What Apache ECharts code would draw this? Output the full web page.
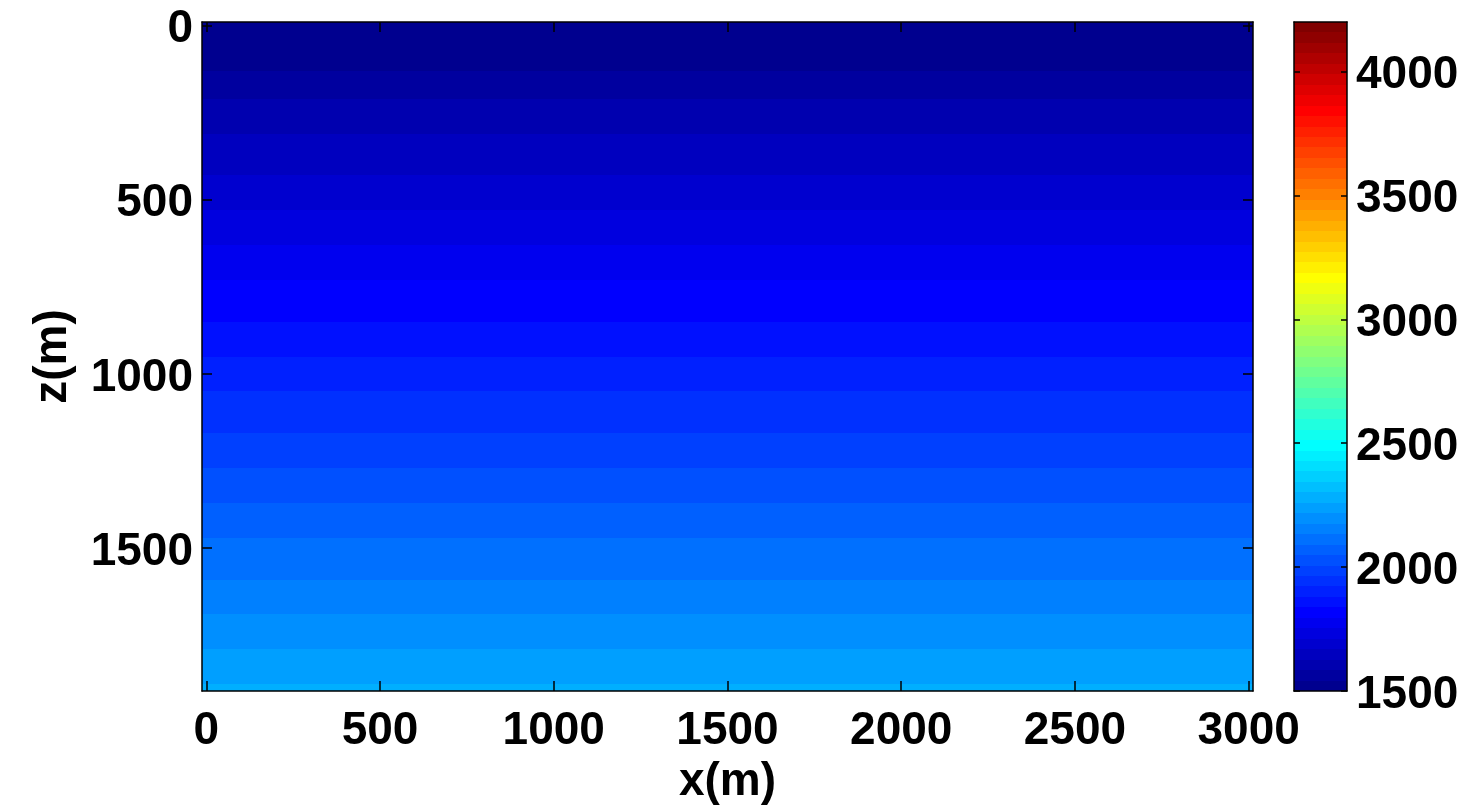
<!DOCTYPE html>
<html>
<head>
<meta charset="utf-8">
<script src="https://cdn.jsdelivr.net/npm/echarts@6/dist/echarts.min.js"></script>
<style>
  html, body { margin: 0; padding: 0; background: #ffffff; }
  #chart { width: 1466px; height: 810px; }
</style>
</head>
<body>
<div id="chart"></div>
<script>
// Layered velocity model (horizontal layers, depth positive downward)
const xRange = [0, 3000];   // lateral extent of model nodes (m)
const dx = 25;               // lateral node spacing (m)
const zRange = [0, 1900];   // depth extent of model nodes (m)
const dz = 20;               // depth node spacing (m)

// depth of the top of each layer (m) and its velocity (m/s)
const layerTops = [0, 130, 210, 310, 430, 530, 630, 730, 850, 950,
                   1050, 1170, 1270, 1370, 1470, 1590, 1690, 1790, 1890];
const layerVelocity = [1520, 1565, 1605, 1650, 1690, 1730, 1775, 1815, 1860, 1900,
                       1940, 1985, 2025, 2070, 2110, 2150, 2195, 2235, 2280];

// axis ticks
const xTicks = [0, 500, 1000, 1500, 2000, 2500, 3000];
const zTicks = [0, 500, 1000, 1500];
const colorTicks = [1500, 2000, 2500, 3000, 3500, 4000];

// colour scale
const colorLimits = [1500, 4200];
const nColors = 64;

// MATLAB-style jet colormap with m entries
function jet(m) {
  const n = Math.ceil(m / 4);
  const u = [];
  for (let i = 1; i <= n; i++) u.push(i / n);
  for (let i = 1; i <= n - 1; i++) u.push(1);
  for (let i = n; i >= 1; i--) u.push(i / n);
  const off = Math.ceil(n / 2) - (m % 4 === 1 ? 1 : 0);
  const J = Array.from({ length: m }, () => [0, 0, 0]);
  const g = u.map((_, k) => off + k + 1);
  const r = g.map(v => v + n).filter(v => v <= m);
  const b = g.map(v => v - n).filter(v => v >= 1);
  const gg = g.filter(v => v <= m);
  r.forEach((idx, k) => { J[idx - 1][0] = u[k]; });
  gg.forEach((idx, k) => { J[idx - 1][1] = u[k]; });
  b.forEach((idx, k) => { J[idx - 1][2] = u[u.length - b.length + k]; });
  return J.map(c => 'rgb(' + c.map(x => Math.round(x * 255)).join(',') + ')');
}

const cmap = jet(nColors);
const step = (colorLimits[1] - colorLimits[0]) / nColors;
const pieces = cmap.map((color, i) => {
  const lo = colorLimits[0] + i * step;
  const hi = lo + step;
  return i === nColors - 1 ? { gte: lo, lte: hi, color } : { gte: lo, lt: hi, color };
});

// layer rectangles: [velocity, top depth, bottom depth]
const layerData = layerVelocity.map((v, i) => {
  const top = i === 0 ? zRange[0] - dz / 2 : layerTops[i];
  const bottom = i === layerVelocity.length - 1 ? zRange[1] + dz / 2 : layerTops[i + 1];
  return [v, top, bottom];
});

// colour bar cells: [mid value, low, high]
const barData = cmap.map((_, i) => {
  const lo = colorLimits[0] + i * step;
  return [lo + step / 2, lo, lo + step];
});

const FONT = '"Liberation Sans", Arial, Helvetica, sans-serif';
const black = '#000000';
const labelStyle = { color: black, fontFamily: FONT, fontWeight: 'bold', fontSize: 46 };
const plain = v => String(Math.round(v));
// vertical-axis labels sit slightly below their tick
const lowered = v => '{t|' + Math.round(v) + '}';
const loweredRich = { t: Object.assign({ padding: [8, 0, 0, 0] }, labelStyle) };

function frameAxis(extra) {
  return Object.assign({
    type: 'value',
    z: 10,
    axisLine: { show: true, onZero: false, lineStyle: { color: black, width: 1.5 } },
    axisTick: { show: false },
    axisLabel: { show: false },
    splitLine: { show: false }
  }, extra);
}

function ticks(values, len) {
  return { show: true, inside: true, length: len, customValues: values, lineStyle: { color: black, width: 1.5 } };
}

const xMin = xRange[0] - dx / 2, xMax = xRange[1] + dx / 2;
const zMin = zRange[0] - dz / 2, zMax = zRange[1] + dz / 2;

const option = {
  backgroundColor: '#ffffff',
  animation: false,
  grid: [
    { left: 202, top: 22, width: 1051, height: 669, outerBoundsMode: 'none', containLabel: false },
    { left: 1294, top: 22, width: 53, height: 669, outerBoundsMode: 'none', containLabel: false }
  ],
  xAxis: [
    frameAxis({
      gridIndex: 0, position: 'bottom', min: xMin, max: xMax,
      axisTick: ticks(xTicks, 10),
      axisLabel: Object.assign({ show: true, margin: 17, customValues: xTicks, formatter: plain }, labelStyle),
      name: 'x(m)', nameLocation: 'middle', nameGap: 64,
      nameTextStyle: labelStyle
    }),
    frameAxis({ gridIndex: 0, position: 'top', min: xMin, max: xMax, axisTick: ticks(xTicks, 10) }),
    frameAxis({ gridIndex: 1, position: 'bottom', min: 0, max: 1 }),
    frameAxis({ gridIndex: 1, position: 'top', min: 0, max: 1 })
  ],
  yAxis: [
    frameAxis({
      gridIndex: 0, position: 'left', inverse: true, min: zMin, max: zMax,
      axisTick: ticks(zTicks, 10),
      axisLabel: Object.assign({ show: true, margin: 9, customValues: zTicks, formatter: lowered, rich: loweredRich }, labelStyle),
      name: 'z(m)', nameLocation: 'middle', nameGap: 126,
      nameTextStyle: labelStyle
    }),
    frameAxis({ gridIndex: 0, position: 'right', inverse: true, min: zMin, max: zMax, axisTick: ticks(zTicks, 10) }),
    frameAxis({
      gridIndex: 1, position: 'right', min: colorLimits[0], max: colorLimits[1],
      axisTick: ticks(colorTicks, 6),
      axisLabel: Object.assign({ show: true, margin: 9, customValues: colorTicks, formatter: lowered, rich: loweredRich }, labelStyle)
    }),
    frameAxis({ gridIndex: 1, position: 'left', min: colorLimits[0], max: colorLimits[1], axisTick: ticks(colorTicks, 6) })
  ],
  visualMap: {
    type: 'piecewise',
    show: false,
    dimension: 0,
    seriesIndex: [0, 1],
    pieces: pieces
  },
  series: [
    {
      type: 'custom',
      xAxisIndex: 0,
      yAxisIndex: 0,
      data: layerData,
      z: 0,
      renderItem: function (params, api) {
        const p0 = api.coord([xMin, api.value(1)]);
        const p1 = api.coord([xMax, api.value(2)]);
        const y0 = Math.round(p0[1]), y1 = Math.round(p1[1]);
        return {
          type: 'rect',
          shape: { x: p0[0], y: y0, width: p1[0] - p0[0], height: y1 - y0 },
          style: { fill: api.visual('color') }
        };
      }
    },
    {
      type: 'custom',
      xAxisIndex: 2,
      yAxisIndex: 2,
      data: barData,
      z: 0,
      renderItem: function (params, api) {
        const pHi = api.coord([0, api.value(2)]);
        const pLo = api.coord([1, api.value(1)]);
        const y0 = Math.round(pHi[1]), y1 = Math.round(pLo[1]);
        return {
          type: 'rect',
          shape: { x: pHi[0], y: y0, width: pLo[0] - pHi[0], height: y1 - y0 },
          style: { fill: api.visual('color') }
        };
      }
    }
  ]
};

const chart = echarts.init(document.getElementById('chart'), null, { renderer: 'canvas' });
chart.setOption(option);
</script>
</body>
</html>
